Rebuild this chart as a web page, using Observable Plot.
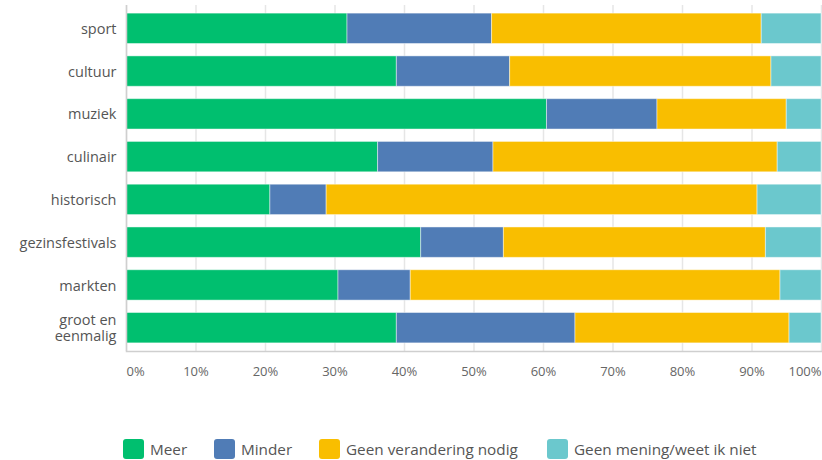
<!DOCTYPE html>
<html>
<head>
<meta charset="utf-8">
<script src="https://cdn.jsdelivr.net/npm/d3@7"></script>
<script src="https://cdn.jsdelivr.net/npm/@observablehq/plot@0.6"></script>
<style>
  body { margin: 0; background: #fff; font-family: "Open Sans", sans-serif; }
  #chart { position: relative; width: 822px; }
  #legend { position: relative; height: 40px; margin-top: 44px; font-family: "Open Sans", sans-serif; font-size: 15.3px; color: #555; }
  .item { position: absolute; top: 0; display: flex; align-items: center; height: 20px; }
  .sw { width: 21px; height: 20px; border-radius: 3px; margin-right: 6px; }
</style>
</head>
<body>
<div id="chart"></div>
<div id="legend"></div>
<script>
const categories = ["sport", "cultuur", "muziek", "culinair", "historisch", "gezinsfestivals", "markten", "groot en eenmalig"];
const series = ["Meer", "Minder", "Geen verandering nodig", "Geen mening/weet ik niet"];
const meer = [31.8, 38.9, 60.5, 36.2, 20.7, 42.4, 30.5, 38.9];
const minder = [20.8, 16.3, 15.9, 16.6, 8.1, 11.9, 10.4, 25.7];
const geenVerandering = [38.8, 37.6, 18.6, 40.9, 62.0, 37.7, 53.2, 30.8];
const geenMening = [8.6, 7.2, 5.0, 6.3, 9.2, 8.0, 5.9, 4.6];
const colors = ["#00bf6f", "#507cb6", "#f9be00", "#6bc8cd"];
const tickValues = [0, 10, 20, 30, 40, 50, 60, 70, 80, 90, 100];
const labelLines = {"groot en eenmalig": "groot en\neenmalig"};

const valuesBySeries = [meer, minder, geenVerandering, geenMening];
const data = [];
series.forEach((s, si) => categories.forEach((c, ci) => data.push({category: c, series: s, value: valuesBySeries[si][ci]})));

const textOpts = {fontFamily: "Open Sans, sans-serif"};

const chart = Plot.plot({
  width: 822,
  height: 395,
  marginLeft: 126,
  marginRight: 1,
  marginTop: 5,
  marginBottom: 44,
  style: {fontFamily: "Open Sans, sans-serif", background: "#fff"},
  x: {domain: [0, 100], axis: null},
  y: {domain: categories, paddingInner: 0.29, paddingOuter: 0.19, round: false, axis: null},
  color: {domain: series, range: colors},
  marks: [
    Plot.gridX(tickValues, {stroke: "#e6e6e6", strokeOpacity: 1, strokeWidth: 1.5}),
    Plot.barX(data, Plot.stackX({x: "value", y: "category", fill: "series", order: series, stroke: "#ffffff", strokeOpacity: 0.45, strokeWidth: 1})),
    Plot.ruleX([0], {stroke: "#cfcfcf", strokeWidth: 1.5}),
    Plot.frame({anchor: "bottom", stroke: "#cfcfcf", strokeWidth: 1.5}),
    Plot.text(categories, {y: d => d, text: d => labelLines[d] || d, frameAnchor: "left", textAnchor: "end", dx: -10, fontSize: 14.5, fill: "#555", lineHeight: 1.1, ...textOpts}),
    Plot.text(tickValues.filter(t => t === 0), {x: d => d, text: d => d + "%", frameAnchor: "bottom", dy: 24, textAnchor: "start", fontSize: 13, fill: "#666", ...textOpts}),
    Plot.text(tickValues.filter(t => t > 0 && t < 100), {x: d => d, text: d => d + "%", frameAnchor: "bottom", dy: 24, textAnchor: "middle", fontSize: 13, fill: "#666", ...textOpts}),
    Plot.text(tickValues.filter(t => t === 100), {x: d => d, text: d => d + "%", frameAnchor: "bottom", dy: 24, textAnchor: "end", fontSize: 13, fill: "#666", ...textOpts})
  ]
});
document.getElementById("chart").appendChild(chart);

const legendLefts = [123, 214, 319, 547];
const legend = document.getElementById("legend");
series.forEach((s, i) => {
  const item = document.createElement("div");
  item.className = "item";
  item.style.left = legendLefts[i] + "px";
  const sw = document.createElement("div");
  sw.className = "sw";
  sw.style.background = colors[i];
  const label = document.createElement("span");
  label.textContent = s;
  item.appendChild(sw);
  item.appendChild(label);
  legend.appendChild(item);
});
</script>
</body>
</html>
